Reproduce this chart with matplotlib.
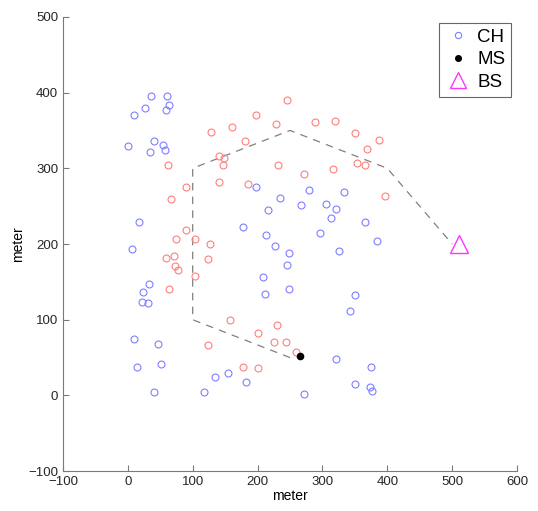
import numpy as np
import matplotlib
matplotlib.use("Agg")
import matplotlib.pyplot as plt

plt.rcParams['font.family'] = ['Liberation Sans', 'DejaVu Sans']

# cluster heads (blue)
ch_x = [35, 60, 63, 59, 27, 9, 1, 41, 54, 57, 34, 17, 7, 32, 24, 22, 31, 9, 47, 51,
        14, 41, 118, 134, 155, 182, 271, 321, 351, 375, 374, 376, 342, 351, 384, 365,
        334, 321, 306, 314, 297, 326, 279, 267, 235, 197, 216, 178, 213, 227, 249,
        246, 209, 211, 249]
ch_y = [396, 396, 383, 377, 379, 370, 329, 336, 331, 324, 321, 229, 193, 147, 137,
        124, 122, 75, 68, 42, 37, 4, 4, 25, 30, 18, 2, 48, 15, 38, 11, 6, 111, 133,
        204, 229, 269, 246, 253, 234, 214, 191, 271, 252, 261, 275, 245, 222, 212,
        198, 188, 172, 157, 134, 141]

# other nodes (red)
node_x = [245, 197, 229, 160, 129, 180, 141, 148, 147, 140, 185, 231, 272, 289, 320,
          350, 387, 369, 354, 366, 316, 396, 62, 90, 66, 90, 74, 104, 126, 59, 71,
          73, 78, 123, 103, 64, 157, 230, 201, 225, 244, 259, 123, 177, 200]
node_y = [390, 371, 358, 355, 348, 336, 316, 314, 305, 282, 279, 305, 292, 361, 363,
          346, 338, 326, 307, 305, 299, 263, 304, 275, 260, 219, 207, 207, 200, 181,
          184, 171, 166, 180, 158, 141, 100, 93, 83, 71, 71, 57, 67, 38, 36]

# mobile sink path
path_x = [250, 100, 100, 250, 400, 500]
path_y = [50, 100, 300, 350, 300, 200]

ms_x, ms_y = [266], [52]
bs_x, bs_y = [510], [200]

fig = plt.figure(figsize=(5.38, 5.11), dpi=100)
ax = fig.add_axes([0.117, 0.078, 0.844, 0.889])

ax.plot(path_x, path_y, ls=(0, (6, 5)), color='#808080', lw=0.9, zorder=1)
ax.plot(node_x, node_y, 'o', mfc='none', mec='#ff7f7f', ms=5, mew=0.8, zorder=2)
ax.plot(ch_x, ch_y, 'o', mfc='none', mec='#7f7fff', ms=5, mew=0.8, zorder=2, label='CH')
ax.plot(ms_x, ms_y, 'o', color='black', ms=4.5, zorder=3, label='MS')
ax.plot(bs_x, bs_y, '^', mfc='none', mec='#ff33ff', ms=13, mew=1.0, zorder=3, label='BS')

ax.set_xlim(-100, 600)
ax.set_ylim(-100, 500)
ax.set_xticks(np.arange(-100, 601, 100))
ax.set_yticks(np.arange(-100, 501, 100))
ax.set_xlabel('meter', fontsize=10, labelpad=1)
ax.set_ylabel('meter', fontsize=10, labelpad=2)
for s in ['top', 'right']:
    ax.spines[s].set_visible(False)
for s in ['left', 'bottom']:
    ax.spines[s].set_color('#7a7a7a')
ax.tick_params(direction='in', length=4, color='#7a7a7a', labelsize=9.5, labelcolor='#262626')

leg = ax.legend(loc='upper right', fontsize=13.5, fancybox=False, framealpha=1,
                edgecolor='#666666', handletextpad=0.35, borderpad=0.3, labelspacing=0.3,
                handlelength=1.4, borderaxespad=0, bbox_to_anchor=(0.987, 0.987),
                markerscale=0.9)
leg.get_frame().set_linewidth(0.8)

fig.savefig('out.png', dpi=100)
